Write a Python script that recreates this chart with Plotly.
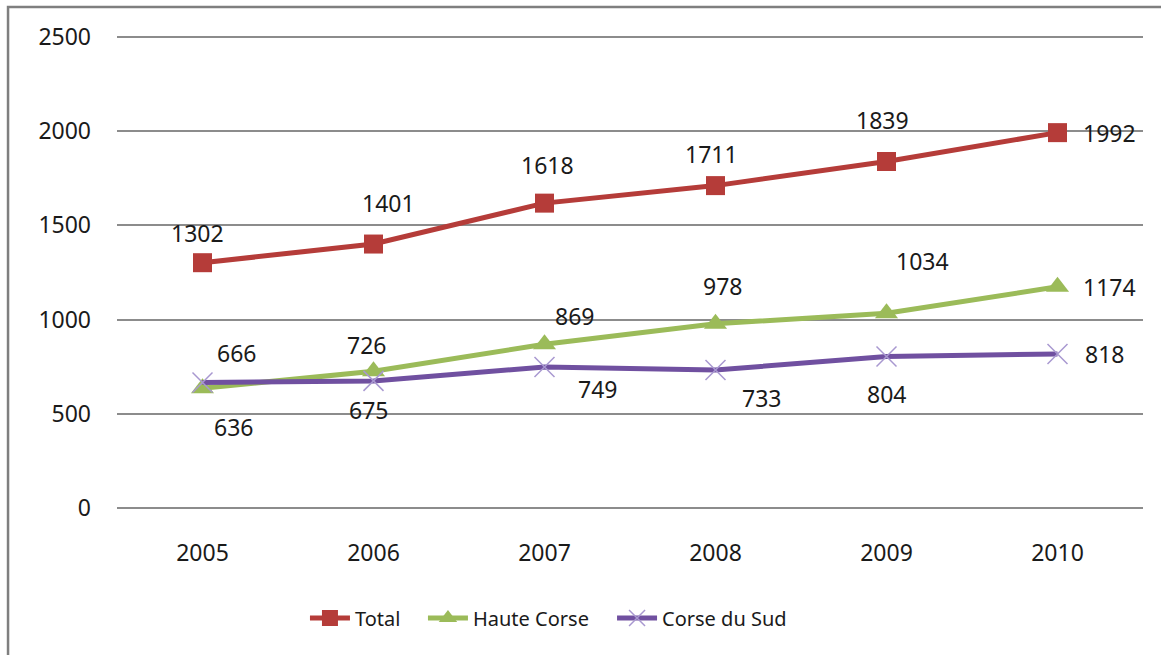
import plotly.graph_objects as go

years = ["2005", "2006", "2007", "2008", "2009", "2010"]
total = [1302, 1401, 1618, 1711, 1839, 1992]
haute_corse = [636, 726, 869, 978, 1034, 1174]
corse_du_sud = [666, 675, 749, 733, 804, 818]
y_ticks = [0, 500, 1000, 1500, 2000, 2500]

# label offsets in pixels (xshift, yshift) as seen on the reference
total_off = [(-5, 30), (15, 41), (3, 38), (-4, 32), (-4, 41), (52, 0)]
haute_off = [(31, -39), (-7, 26), (30, 28), (7, 38), (36, 52), (52, 0)]
sud_off = [(34, 30), (-5, -29), (53, -22), (46, -28), (0, -37), (47, 0)]

FONT = "Noto Sans"
TXT = "#1a1a1a"
RED = "#B53C39"
GREEN = "#9BBB59"
PURPLE = "#7050A0"
LAVENDER = "#A898D0"

fig = go.Figure()
fig.add_trace(go.Scatter(x=years, y=total, name="Total", mode="lines+markers",
                         line=dict(color=RED, width=5), legend="legend",
                         marker=dict(symbol="square", size=19, color=RED)))
fig.add_trace(go.Scatter(x=years, y=haute_corse, name="Haute Corse", mode="lines+markers",
                         line=dict(color=GREEN, width=5), legend="legend2",
                         marker=dict(symbol="triangle-up", size=20, color=GREEN)))
fig.add_trace(go.Scatter(x=years, y=corse_du_sud, name="Corse du Sud", mode="lines+markers",
                         line=dict(color=PURPLE, width=5), legend="legend3",
                         marker=dict(symbol="x-thin", size=20,
                                     line=dict(color=LAVENDER, width=1.5))))

annotations = []
for vals, offs in ((total, total_off), (haute_corse, haute_off), (corse_du_sud, sud_off)):
    for i, (yv, (dx, dy)) in enumerate(zip(vals, offs)):
        annotations.append(dict(x=i, y=yv, xref="x", yref="y", text=str(yv),
                                showarrow=False, xshift=dx, yshift=dy,
                                font=dict(family=FONT, size=23, color=TXT)))

def leg(x):
    return dict(orientation="h", x=x, xanchor="left", y=-0.2274, yanchor="middle",
                font=dict(family=FONT, size=20, color=TXT),
                itemwidth=40, bgcolor="rgba(0,0,0,0)")

fig.update_layout(
    width=1161, height=655,
    margin=dict(l=117, r=18, t=35, b=145),
    paper_bgcolor="white", plot_bgcolor="white",
    font=dict(family=FONT, size=23, color=TXT),
    showlegend=True,
    legend=leg(0.1832), legend2=leg(0.2982), legend3=leg(0.4825),
    annotations=annotations,
    shapes=[dict(type="rect", xref="paper", yref="paper",
                 x0=-0.1062, x1=1.2, y0=-0.5, y1=1.0589,
                 line=dict(color="#7f7f7f", width=2.5), layer="below")],
)
fig.update_xaxes(type="category", range=[-0.5, 5.5], showgrid=False, showline=False,
                 zeroline=False, ticks="", ticklabelstandoff=27,
                 tickfont=dict(family=FONT, size=23, color=TXT))
fig.update_yaxes(range=[-10, 2510], tickvals=y_ticks, showgrid=True, gridcolor="#8c8c8c",
                 gridwidth=1.5, zeroline=False, showline=False, ticks="",
                 ticklabelstandoff=25,
                 tickfont=dict(family=FONT, size=23, color=TXT))

fig.write_html("out.html", config={"displayModeBar": False},
               post_script="document.body.style.margin='0';document.body.style.padding='0';"
                           "document.body.style.overflow='hidden';")
